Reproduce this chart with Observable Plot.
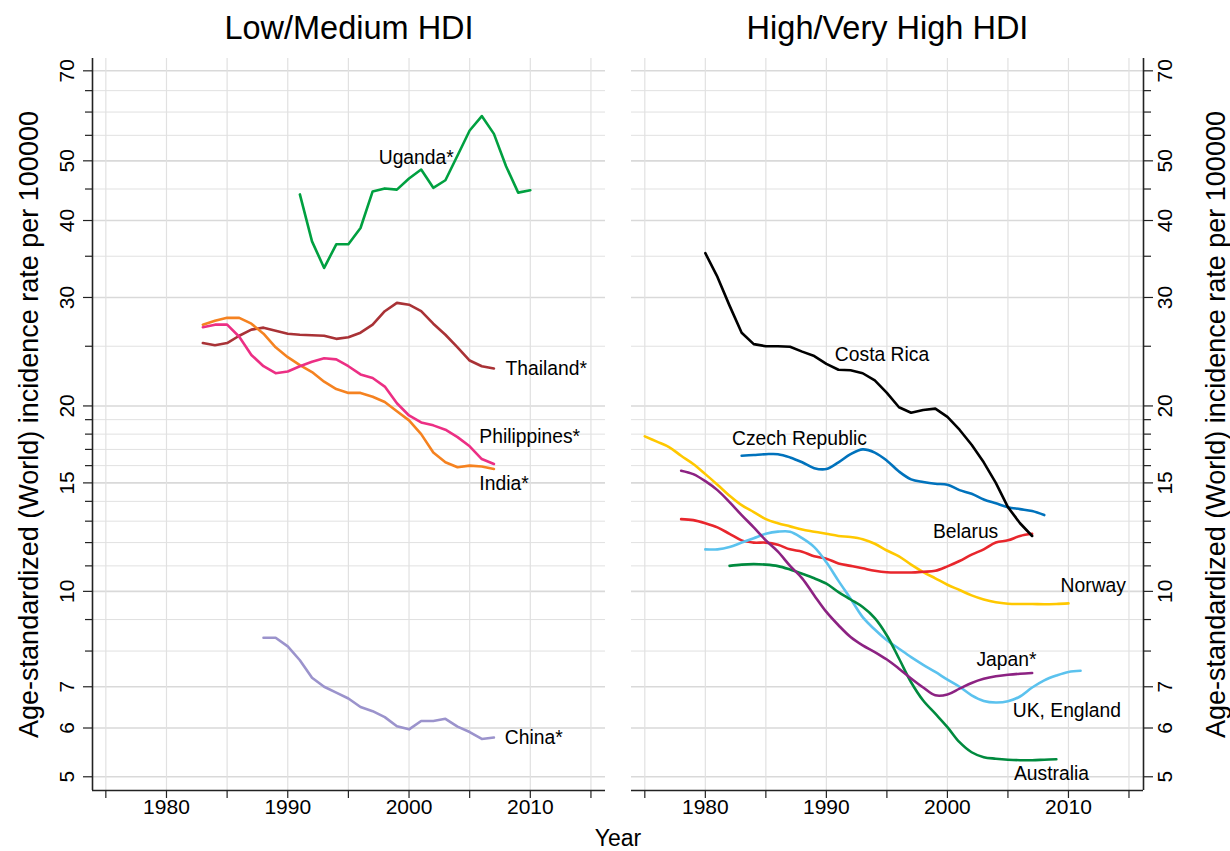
<!DOCTYPE html>
<html><head><meta charset="utf-8">
<script src="https://cdn.jsdelivr.net/npm/d3@7"></script>
<script src="https://cdn.jsdelivr.net/npm/@observablehq/plot@0.6"></script>
<style>
body{margin:0;background:#fff;}
#wrap{position:relative;width:1230px;height:851px;font-family:"Liberation Sans",Arial,sans-serif;background:#fff;overflow:hidden;}
#left{position:absolute;left:0;top:0;}
#right{position:absolute;left:615px;top:0;}
#xtitle{position:absolute;left:558px;width:120px;text-align:center;top:827px;font-size:23px;line-height:23px;color:#000;}
</style></head><body>
<div id="wrap"><div id="left"></div><div id="right"></div><div id="xtitle">Year</div></div>
<script>
// ---------- data ----------
const panelTitles = ["Low/Medium HDI", "High/Very High HDI"];
const yTitle = "Age-standardized (World) incidence rate per 100000";
const yTicks = [5, 6, 7, 10, 15, 20, 30, 40, 50, 70];
const yMinorTicks = [8, 9, 11, 12, 13, 14, 16, 17, 18, 19, 25, 35, 45, 55, 60, 65];
const xTicks = [1980, 1990, 2000, 2010];
const xMinorTicks = [1975, 1985, 1995, 2005, 2015];
const xDomain = [1973.9, 2016.2];
const yDomain = [4.75, 73.3];

// Low/Medium HDI
const ugandaStart = 1991;
const ugandaValues = [44.1,37.0,33.5,36.6,36.6,38.9,44.6,45.1,44.9,46.8,48.4,45.2,46.5,51.0,56.0,59.1,55.3,49.0,44.4,44.8];
const thailandStart = 1983;
const thailandValues = [25.3,25.1,25.3,26.0,26.6,26.8,26.5,26.2,26.1,26.05,26.0,25.7,25.85,26.3,27.1,28.5,29.4,29.2,28.5,27.2,26.1,24.9,23.7,23.2,23.0];
const indiaStart = 1983;
const indiaValues = [27.1,27.5,27.8,27.8,27.2,26.2,24.9,24.0,23.3,22.7,21.9,21.3,21.0,21.0,20.7,20.3,19.6,18.95,18.0,16.8,16.2,15.9,16.0,15.95,15.8];
const philippinesStart = 1983;
const philippinesValues = [26.85,27.1,27.1,25.9,24.2,23.2,22.6,22.75,23.2,23.6,23.9,23.8,23.2,22.5,22.2,21.5,20.2,19.3,18.8,18.6,18.3,17.8,17.2,16.4,16.1];
const chinaStart = 1988;
const chinaValues = [8.41,8.41,8.14,7.73,7.24,7.0,6.85,6.70,6.49,6.39,6.25,6.04,5.97,6.16,6.16,6.21,6.03,5.91,5.76,5.79];

// High/Very High HDI
const costaRicaStart = 1980;
const costaRicaValues = [35.4,32.4,29.1,26.3,25.2,25.0,25.0,24.95,24.5,24.1,23.4,22.9,22.85,22.6,22.0,21.0,19.9,19.5,19.7,19.8,19.2,18.3,17.3,16.2,15.0,13.7,12.9,12.3];
const czechStart = 1983;
const czechValues = [16.6,16.65,16.7,16.7,16.5,16.2,15.85,15.8,16.2,16.7,17.0,16.8,16.3,15.65,15.2,15.05,14.95,14.9,14.6,14.4,14.1,13.9,13.7,13.6,13.5,13.3];
const norwayStart = 1975;
const norwayValues = [17.85,17.5,17.15,16.6,16.1,15.5,14.9,14.3,13.8,13.45,13.1,12.9,12.75,12.6,12.5,12.4,12.3,12.25,12.15,11.95,11.65,11.4,11.05,10.75,10.5,10.25,10.05,9.85,9.7,9.6,9.55,9.54,9.54,9.53,9.54,9.56];
const belarusStart = 1978;
const belarusValues = [13.1,13.05,12.9,12.7,12.4,12.1,12.0,12.0,11.9,11.7,11.6,11.4,11.3,11.1,11.0,10.9,10.8,10.74,10.73,10.73,10.76,10.8,10.98,11.2,11.47,11.7,12.0,12.1,12.3,12.4];
const ukStart = 1980;
const ukValues = [11.7,11.7,11.8,12.0,12.2,12.4,12.5,12.5,12.2,11.8,11.15,10.4,9.73,9.08,8.67,8.33,8.07,7.82,7.6,7.4,7.19,7.0,6.78,6.64,6.6,6.63,6.75,6.98,7.17,7.3,7.4,7.43];
const australiaStart = 1982;
const australiaValues = [11.0,11.05,11.07,11.05,10.99,10.85,10.68,10.5,10.29,9.97,9.7,9.43,9.05,8.48,7.78,7.12,6.65,6.33,6.02,5.69,5.48,5.38,5.35,5.33,5.32,5.32,5.33,5.34];
const japanStart = 1978;
const japanValues = [15.7,15.5,15.1,14.6,13.96,13.3,12.7,12.1,11.6,11.0,10.5,9.85,9.26,8.81,8.43,8.17,7.97,7.75,7.49,7.22,6.98,6.78,6.8,6.95,7.1,7.21,7.28,7.32,7.35,7.37];

const leftNames = ["Uganda*", "Thailand*", "India*", "Philippines*", "China*"];
const leftColors = ["#00a040", "#a93236", "#f58220", "#ec2f84", "#9b93cc"];
const rightNames = ["Costa Rica", "Czech Republic", "Norway", "Belarus", "UK, England", "Australia", "Japan*"];
const rightColors = ["#000000", "#0072bc", "#ffc800", "#e8262c", "#5bc2ee", "#008a3e", "#8c2282"];

// label anchor points (year, value), same order as the names
const leftLabelYears = [1997.5, 2007.95, 2005.8, 2005.8, 2007.9];
const leftLabelValues = [50.6, 23.0, 14.97, 17.8, 5.79];
const rightLabelYears = [1990.7, 1982.2, 2009.35, 1998.8, 2005.4, 2005.5, 2002.4];
const rightLabelValues = [24.25, 17.7, 10.2, 12.5, 6.39, 5.05, 7.73];

// ---------- build tables ----------
function series(name, start, values) {
  return values.map((v, i) => ({name, year: start + i, value: v}));
}
const leftData = [
  ...series("Uganda*", ugandaStart, ugandaValues),
  ...series("Thailand*", thailandStart, thailandValues),
  ...series("India*", indiaStart, indiaValues),
  ...series("Philippines*", philippinesStart, philippinesValues),
  ...series("China*", chinaStart, chinaValues)
];
const rightData = [
  ...series("Costa Rica", costaRicaStart, costaRicaValues),
  ...series("Czech Republic", czechStart, czechValues),
  ...series("Norway", norwayStart, norwayValues),
  ...series("Belarus", belarusStart, belarusValues),
  ...series("UK, England", ukStart, ukValues),
  ...series("Australia", australiaStart, australiaValues),
  ...series("Japan*", japanStart, japanValues)
];
const leftLabels = leftNames.map((n, i) => ({name: n, year: leftLabelYears[i], value: leftLabelValues[i]}));
const rightLabels = rightNames.map((n, i) => ({name: n, year: rightLabelYears[i], value: rightLabelValues[i]}));

const FONT = "'Liberation Sans', Arial, sans-serif";
const GRID = "#e1e1e1";
const AXIS = "#222";

function panel({side, title, data, labels, names, colors, smooth}) {
  const isLeft = side === "left";
  const marks = [
    Plot.gridY(yMinorTicks, {stroke: GRID, strokeOpacity: 1, strokeWidth: 1}),
    Plot.gridY(yTicks, {stroke: "#d9d9d9", strokeOpacity: 1, strokeWidth: 1.6}),
    Plot.gridX([...xMinorTicks, ...xTicks], {stroke: GRID, strokeOpacity: 1, strokeWidth: 1.2}),
    Plot.axisY(yTicks, {anchor: side, tickSize: 9, tickFormat: () => "", label: null, stroke: AXIS, strokeWidth: 1.2}),
    Plot.axisY(yMinorTicks, {anchor: side, tickSize: 7, tickFormat: () => "", label: null, stroke: AXIS, strokeWidth: 1.2}),
    Plot.text(yTicks, {y: d => d, text: d => String(d), frameAnchor: side, rotate: -90,
      dx: isLeft ? -25 : 22, textAnchor: "middle", lineAnchor: "middle", fontSize: 21, fill: "#000"}),
    Plot.text([yTitle], {frameAnchor: side, rotate: -90, dx: isLeft ? -63 : 73,
      textAnchor: "middle", lineAnchor: "middle", fontSize: 27, fill: "#000"}),
    Plot.axisX(xTicks, {anchor: "bottom", tickSize: 8, tickPadding: 1, label: null, fontSize: 21,
      tickFormat: d => String(d), stroke: AXIS, strokeWidth: 1.2, fill: "#000"}),
    Plot.axisX(xMinorTicks, {anchor: "bottom", tickSize: 8, tickFormat: () => "", label: null, stroke: AXIS, strokeWidth: 1.2}),
    Plot.ruleY([yDomain[0]], {stroke: AXIS, strokeWidth: 1.6}),
    Plot.ruleX([isLeft ? xDomain[0] : xDomain[1]], {stroke: AXIS, strokeWidth: 1.6}),
    Plot.text([title], {frameAnchor: "top", dy: -30, lineAnchor: "middle", textAnchor: "middle", fontSize: 32.5, fill: "#000"})
  ];
  if (smooth) {
    marks.push(Plot.line(data.filter(d => d.name !== "Costa Rica"), {x: "year", y: "value", z: "name", stroke: "name", strokeWidth: 2.6, curve: "catmull-rom"}));
    marks.push(Plot.line(data.filter(d => d.name === "Costa Rica"), {x: "year", y: "value", z: "name", stroke: "name", strokeWidth: 2.6, curve: "linear"}));
  } else {
    marks.push(Plot.line(data, {x: "year", y: "value", z: "name", stroke: "name", strokeWidth: 2.6}));
  }
  marks.push(Plot.text(labels, {x: "year", y: "value", text: "name", textAnchor: "start", lineAnchor: "middle", fontSize: 19.3, fill: "#000"}));
  return Plot.plot({
    width: 615, height: 851,
    marginLeft: isLeft ? 92 : 16,
    marginRight: isLeft ? 10 : 87,
    marginTop: 58, marginBottom: 61,
    style: {fontFamily: FONT, fontSize: "18px", color: "#000", background: "transparent", overflow: "visible"},
    x: {type: "linear", domain: xDomain},
    y: {type: "log", domain: yDomain},
    color: {domain: names, range: colors},
    marks
  });
}

document.getElementById("left").appendChild(panel({side: "left", title: panelTitles[0], data: leftData, labels: leftLabels, names: leftNames, colors: leftColors, smooth: false}));
document.getElementById("right").appendChild(panel({side: "right", title: panelTitles[1], data: rightData, labels: rightLabels, names: rightNames, colors: rightColors, smooth: true}));
</script>
</body></html>
